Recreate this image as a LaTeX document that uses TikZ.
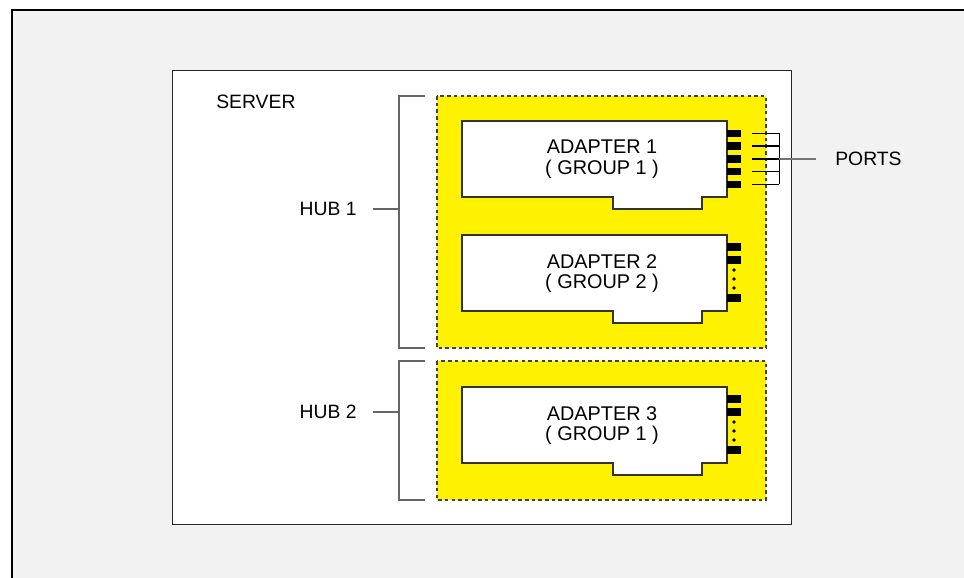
\documentclass[tikz,border=0pt]{standalone}
\usepackage{fontspec}
\setmainfont{Liberation Sans}
\usetikzlibrary{positioning}

\tikzset{
  frame/.style={black,line width=1.2pt},
  serverbox/.style={draw=black!85,fill=white,line width=.5pt},
  hubarea/.style={draw=black!75,fill=yellow,line width=.6pt,dash pattern=on 2pt off 1.8pt},
  bracket/.style={black!60,line width=.6pt},
  cardline/.style={draw=black!80,fill=white,line width=.6pt},
  tag/.style={inner sep=0,font=\fontsize{11}{11.6}\selectfont},
  cardtext/.style={inner sep=0,align=center,font=\fontsize{11.3}{11.7}\selectfont},
  port/.style={fill=black,inner sep=0,minimum width=.28cm,minimum height=.15cm},
  wire/.style={black,line width=.7pt},
  lead/.style={black!55,line width=.6pt}
}

% adapter card with its edge connector notch: top y, name, text
\newcommand{\adaptercard}[3]{
  \draw[cardline] (462,#1) -- (727,#1) -- (727,#1+76) -- (702,#1+76) -- (702,#1+88)
    -- (613,#1+88) -- (613,#1+76) -- (462,#1+76) -- cycle;
  \node[cardtext] (#2) at (602,#1+38.5) {#3};
}

\begin{document}
\begin{tikzpicture}[x=.02cm,y=-.02cm]
\useasboundingbox (0,0) rectangle (964,578);
\fill[black!5] (12,10) rectangle (964,578);
\draw[frame] (12,578) -- (12,10) -- (964,10);

% server
\draw[serverbox] (172,70) rectangle (791,524);
\node[tag,anchor=base west] (server) at (216,108) {SERVER};

% hubs
\draw[hubarea] (437,96) rectangle (766,348);
\draw[hubarea] (437,361) rectangle (766,500);
\draw[bracket] (425,96) -- (399,96) -- (399,348) -- (425,348);
\draw[bracket] (425,361) -- (399,361) -- (399,500) -- (425,500);
\coordinate (b1) at (399,209);
\coordinate (b2) at (399,412);
\draw[bracket] (b1) -- ++(-26,0) coordinate (t1);
\draw[bracket] (b2) -- ++(-26,0) coordinate (t2);
\node[tag,left=.32cm of t1] (hub1) {HUB 1};
\node[tag,left=.32cm of t2] (hub2) {HUB 2};

% adapters
\adaptercard{121}{a1}{ADAPTER 1\\( GROUP 1 )}
\adaptercard{235}{a2}{ADAPTER 2\\( GROUP 2 )}
\adaptercard{387}{a3}{ADAPTER 3\\( GROUP 1 )}

% ports of adapter 1, all shown
\foreach \k/\dy in {1/12.3,2/25,3/38,4/50.7,5/63.3} {
  \node[port] (pa\k) at (734,121+\dy) {};
  \draw[wire] ([xshift=.22cm]pa\k.east) -- ++(.54cm,0) coordinate (ea\k);
}
\draw[wire] (ea1) -- (ea5);
\node[tag,anchor=west] (ports) at (835,159) {PORTS};
\draw[lead] (ea3) -- ([xshift=-.38cm]ports.west);

% ports of adapters 2 and 3, some left out
\foreach \top/\nm in {235/b,387/c} {
  \foreach \dy [count=\k] in {12,25,63}
    \node[port] (p\nm\k) at (734,\top+\dy) {};
  \foreach \dy in {35,44,53}
    \fill (734,\top+\dy) circle (1.1pt);
}
\end{tikzpicture}
\end{document}
